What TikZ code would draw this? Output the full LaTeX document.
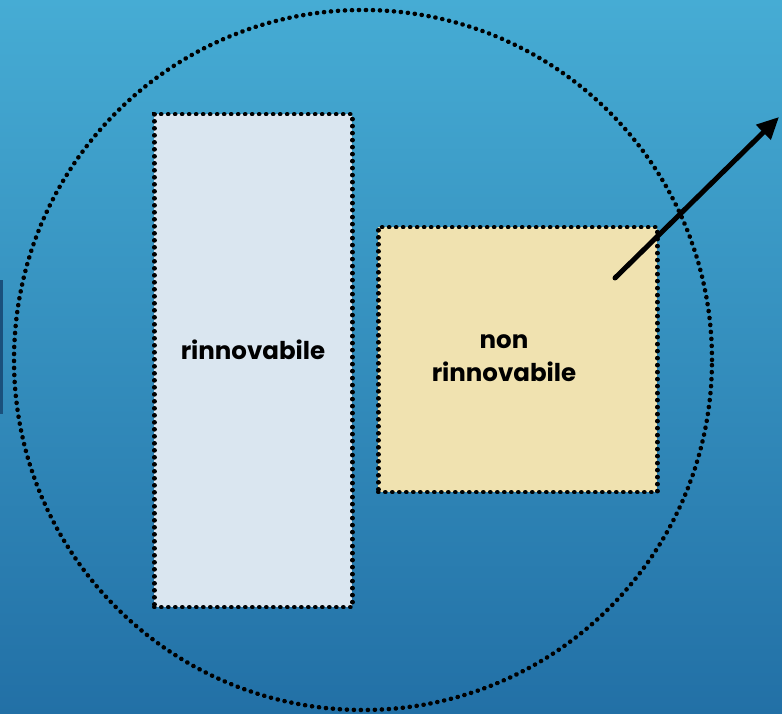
\documentclass[tikz,border=0pt]{standalone}
\usepackage{fontspec}
\setmainfont{Poppins}
\usetikzlibrary{arrows.meta}
\begin{document}
\begin{tikzpicture}[x=1pt,y=1pt,
  dotline/.style={line width=4.5pt, line cap=round, dash pattern=on 0.2pt off 6.8pt, draw=black},
  lbl/.style={font=\bfseries\fontsize{24.5}{33}\selectfont, align=center, text=black}]
\definecolor{bgtop}{RGB}{70,172,212}
\definecolor{bgbot}{RGB}{34,112,166}
\definecolor{boxblue}{RGB}{218,230,240}
\definecolor{boxyel}{RGB}{240,226,176}
\definecolor{barblue}{RGB}{26,80,124}
\useasboundingbox (0,0) rectangle (782,714);
\shade[top color=bgtop, bottom color=bgbot] (0,0) rectangle (782,714);
\fill[barblue] (0,300) rectangle (3,434);
\draw[dotline] (363,354) ellipse [x radius=349, y radius=350];
\node[dotline, fill=boxblue, minimum width=198, minimum height=493, inner sep=0, anchor=north west] (ren) at (152,602) {};
\node[dotline, fill=boxyel, minimum width=279, minimum height=265, inner sep=0, anchor=north west] (nonren) at (376,489) {};
\node[lbl] (t1) at (253,364) {rinnovabile};
\node[lbl] (t2) at (504,356) {non\\rinnovabile};
\coordinate (as) at (615,436);
\coordinate (ae) at (779,597);
\draw[line width=5pt, line cap=round, -{Triangle[length=22pt,width=20pt]}] (as) -- (ae);
\end{tikzpicture}
\end{document}
